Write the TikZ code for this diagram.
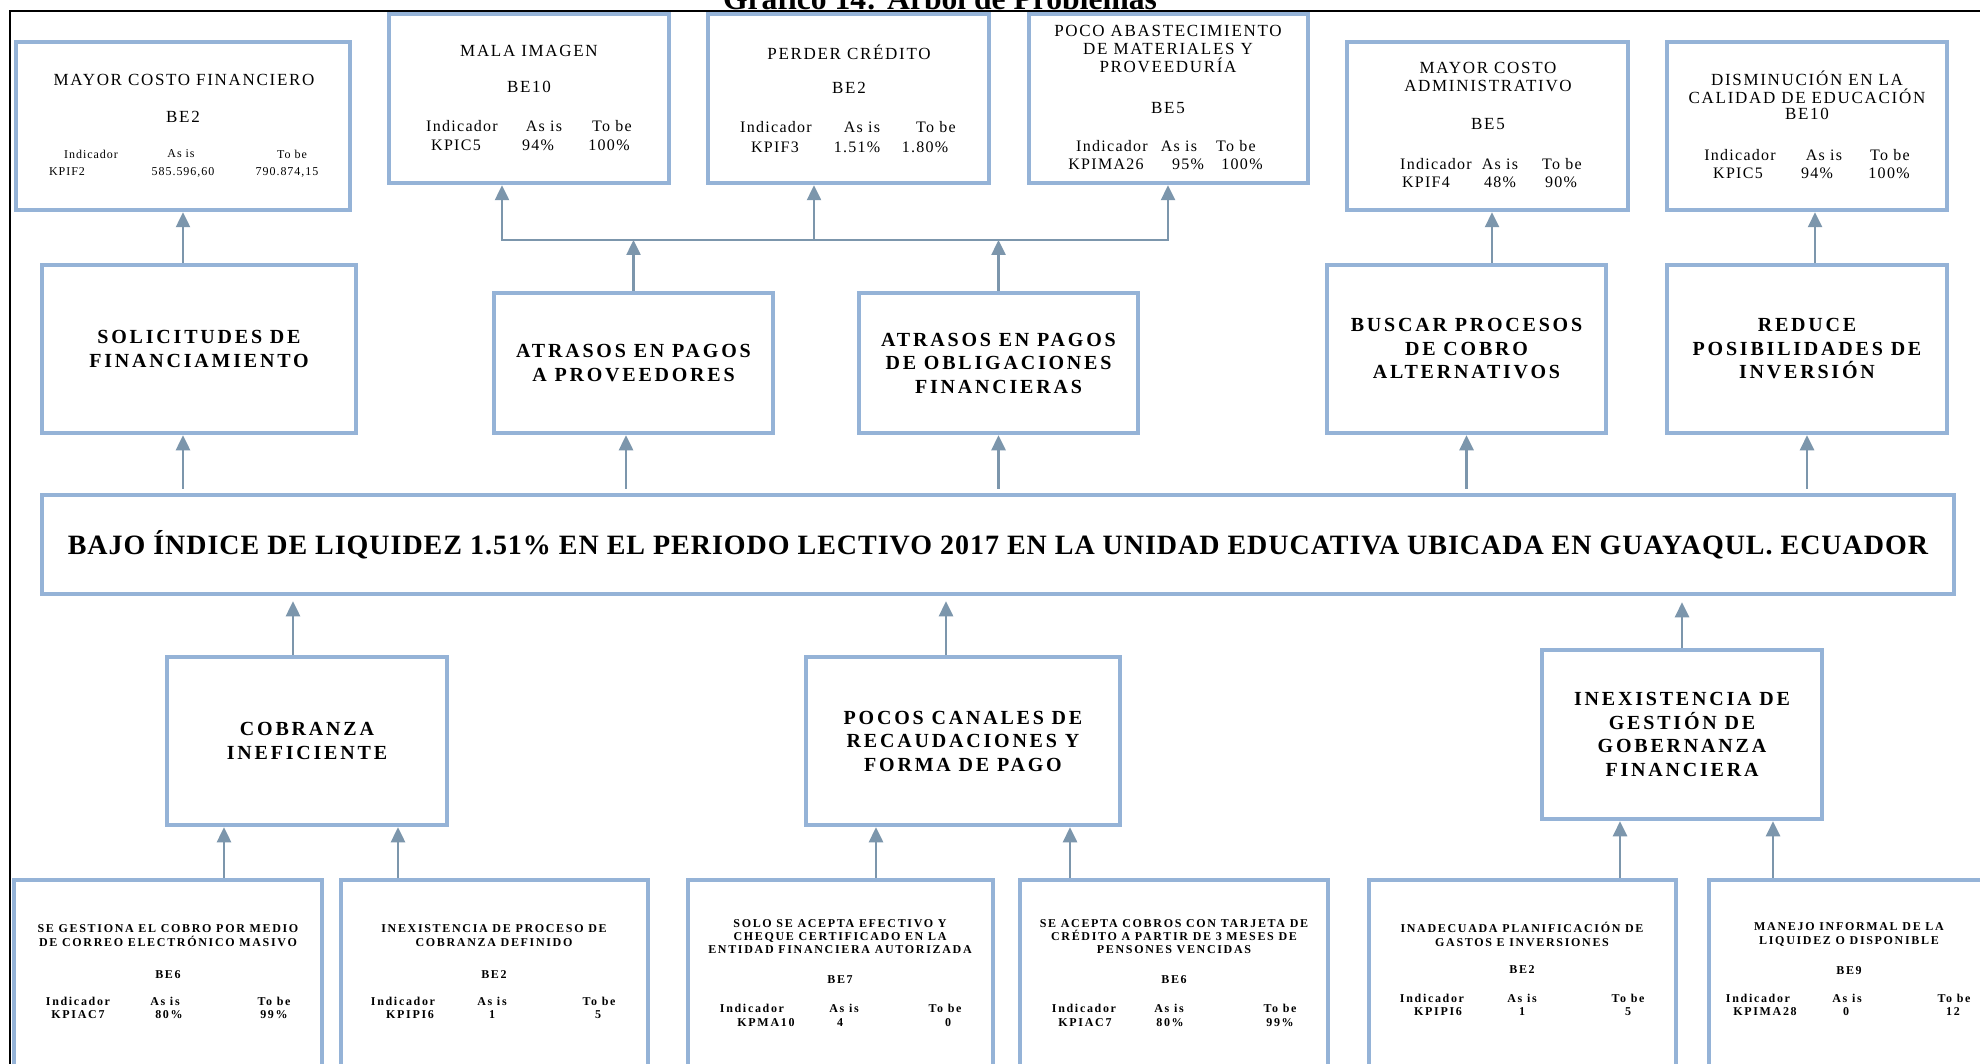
\documentclass[tikz,border=0pt]{standalone}
\usepackage{fontspec}
\setmainfont{Liberation Serif}
\newfontfamily\headfont[LetterSpace=10]{Liberation Serif}
\newfontfamily\cellfont[LetterSpace=8]{Liberation Serif}
\newfontfamily\wideboldfont[LetterSpace=14]{Liberation Serif}
\newfontfamily\mainboldfont[LetterSpace=3.5]{Liberation Serif}
\usetikzlibrary{arrows.meta}
\definecolor{boxline}{RGB}{149,179,215}
\definecolor{arrowline}{RGB}{124,150,172}

\tikzset{
  box/.style={draw=boxline, line width=4.5pt, fill=white, rectangle, inner sep=0pt, align=center},
  arr/.style={draw=arrowline, line width=2.5pt, -{Triangle[width=14pt,length=15pt]}},
  link/.style={draw=arrowline, line width=2.5pt, line cap=rect},
  causetxt/.style={font=\wideboldfont\bfseries\fontsize{20}{23.5}\selectfont},
  efftitle/.style={font=\headfont\fontsize{17}{18}\selectfont, align=center, inner sep=0pt},
  cell/.style={font=\cellfont\fontsize{16}{18}\selectfont, inner sep=0pt},
  smallcell/.style={font=\cellfont\fontsize{12}{14}\selectfont, inner sep=0pt},
  leaftxt/.style={font=\wideboldfont\bfseries\fontsize{12}{14}\selectfont, align=center, inner sep=0pt},
  leaftxtc/.style={font=\wideboldfont\bfseries\fontsize{12}{13}\selectfont, align=center, inner sep=0pt},
  leafcell/.style={font=\wideboldfont\bfseries\fontsize{12}{14}\selectfont, inner sep=0pt},
}

% indicator table: header row and value row
\newcommand\headrow[6]{%
  \node[#2] (#1h1) at (#4,#3) {Indicador};
  \node[#2] (#1h2) at (#5,#3) {As is};
  \node[#2] (#1h3) at (#6,#3) {To be};}
\newcommand\valrow[9]{%
  \node[#2] (#1v1) at (#4,#3) {#7};
  \node[#2] (#1v2) at (#5,#3) {#8};
  \node[#2] (#1v3) at (#6,#3) {#9};}

\begin{document}
\begin{tikzpicture}[x=1pt,y=-1pt]
\useasboundingbox (0,0) rectangle (1980,1064);
\clip (0,0) rectangle (1980,1064);
\fill[white] (0,0) rectangle (1980,1064);

% caption and page frame
\node[font=\bfseries\fontsize{31.6}{36}\selectfont, anchor=base, inner sep=0pt] (caption) at (940,10) {Gráfico 14: Árbol de Problemas};
\draw[line width=2pt] (1990,11) -- (9.5,11) -- (9.5,1075);

% ---------- effects ----------
\node[box, minimum width=334pt, minimum height=168pt] (b1) at (183,126) {};
\node[box, minimum width=280pt, minimum height=169pt] (b2) at (529,98.5) {};
\node[box, minimum width=281pt, minimum height=169pt] (b3) at (848.5,98.5) {};
\node[box, minimum width=279pt, minimum height=169pt] (b4) at (1168.5,98.5) {};
\node[box, minimum width=281pt, minimum height=168pt] (b5) at (1487.5,126) {};
\node[box, minimum width=280pt, minimum height=168pt] (b6) at (1807,126) {};

\node[box, causetxt, minimum width=314pt, minimum height=168pt] (b7) at (199,349) {SOLICITUDES DE\\FINANCIAMIENTO};
\node[box, causetxt, minimum width=279pt, minimum height=140pt] (b8) at (633.5,363) {ATRASOS EN PAGOS\\A PROVEEDORES};
\node[box, causetxt, minimum width=279pt, minimum height=140pt] (b9) at (998.5,363) {ATRASOS EN PAGOS\\DE OBLIGACIONES\\FINANCIERAS};
\node[box, causetxt, minimum width=279pt, minimum height=168pt] (b10) at (1466.5,349) {BUSCAR PROCESOS\\DE COBRO\\ALTERNATIVOS};
\node[box, causetxt, minimum width=280pt, minimum height=168pt] (b11) at (1807,349) {REDUCE\\POSIBILIDADES DE\\INVERSIÓN};

% ---------- central problem ----------
\node[box, font=\mainboldfont\bfseries\fontsize{28}{32}\selectfont, minimum width=1912pt, minimum height=99pt] (main) at (998,544.5)
  {BAJO ÍNDICE DE LIQUIDEZ 1.51\% EN EL PERIODO LECTIVO 2017 EN LA UNIDAD EDUCATIVA UBICADA EN GUAYAQUL. ECUADOR};

% ---------- causes ----------
\node[box, causetxt, minimum width=280pt, minimum height=168pt] (b12) at (307,741) {COBRANZA\\INEFICIENTE};
\node[box, causetxt, minimum width=314pt, minimum height=168pt] (b13) at (963,741) {POCOS CANALES DE\\RECAUDACIONES Y\\FORMA DE PAGO};
\node[box, causetxt, minimum width=280pt, minimum height=169pt] (b14) at (1682,734.5) {INEXISTENCIA DE\\GESTIÓN DE\\GOBERNANZA\\FINANCIERA};

\node[box, minimum width=308pt, minimum height=190pt] (b15) at (168,975) {};
\node[box, minimum width=307pt, minimum height=190pt] (b16) at (494.5,975) {};
\node[box, minimum width=305pt, minimum height=190pt] (b17) at (840.5,975) {};
\node[box, minimum width=308pt, minimum height=190pt] (b18) at (1174,975) {};
\node[box, minimum width=307pt, minimum height=190pt] (b19) at (1522.5,975) {};
\node[box, minimum width=286pt, minimum height=190pt] (b20) at (1852,975) {};

% ---------- effect texts ----------
\node[efftitle] (t1) at (184,80) {MAYOR COSTO FINANCIERO};
\node[efftitle] (t1be) at (183,117) {BE2};
\headrow{k1}{smallcell}{154}{91}{181}{292}
\valrow{k1}{smallcell}{172}{67}{183}{287}{KPIF2}{585.596,60}{790.874,15}

\node[efftitle] (t2) at (529,51) {MALA IMAGEN};
\node[efftitle] (t2be) at (529,87) {BE10};
\headrow{k2}{cell}{126}{462}{544}{612}
\valrow{k2}{cell}{145}{456}{538}{609}{KPIC5}{94\%}{100\%}

\node[efftitle] (t3) at (849,52) {PERDER CRÉDITO};
\node[efftitle] (t3be) at (849,88) {BE2};
\headrow{k3}{cell}{127}{776}{862}{936}
\valrow{k3}{cell}{147}{775}{857}{925}{KPIF3}{1.51\%}{1.80\%}

\node[efftitle] (t4) at (1168,49) {POCO ABASTECIMIENTO\\DE MATERIALES Y\\PROVEEDURÍA};
\node[efftitle] (t4be) at (1168,108) {BE5};
\headrow{k4}{cell}{146}{1112}{1179}{1236}
\valrow{k4}{cell}{164}{1106}{1188}{1242}{KPIMA26}{95\%}{100\%}

\node[efftitle] (t5) at (1488,77) {MAYOR COSTO\\ADMINISTRATIVO};
\node[efftitle] (t5be) at (1488,124) {BE5};
\headrow{k5}{cell}{164}{1436}{1500}{1562}
\valrow{k5}{cell}{182}{1426}{1500}{1561}{KPIF4}{48\%}{90\%}

\node[efftitle] (t6) at (1807,87) {DISMINUCIÓN EN LA\\CALIDAD DE EDUCACIÓN};
\node[efftitle] (t6be) at (1807,114) {BE10};
\headrow{k6}{cell}{155}{1740}{1824}{1890}
\valrow{k6}{cell}{173}{1738}{1817}{1889}{KPIC5}{94\%}{100\%}

% ---------- root cause texts ----------
\node[leaftxt] (t15) at (168,936) {SE GESTIONA EL COBRO POR MEDIO\\DE CORREO ELECTRÓNICO MASIVO};
\node[leaftxt] (t15be) at (168,975) {BE6};
\headrow{k15}{leafcell}{1001}{78}{165}{274}
\valrow{k15}{leafcell}{1015}{78}{169}{274}{KPIAC7}{80\%}{99\%}

\node[leaftxt] (t16) at (494,936) {INEXISTENCIA DE PROCESO DE\\COBRANZA DEFINIDO};
\node[leaftxt] (t16be) at (494,975) {BE2};
\headrow{k16}{leafcell}{1001}{403}{492}{599}
\valrow{k16}{leafcell}{1015}{410}{492}{598}{KPIPI6}{1}{5}

\node[leaftxtc] (t17) at (840,937) {SOLO SE ACEPTA EFECTIVO Y\\CHEQUE CERTIFICADO EN LA\\ENTIDAD FINANCIERA AUTORIZADA};
\node[leaftxt] (t17be) at (840,980) {BE7};
\headrow{k17}{leafcell}{1008}{752}{844}{945}
\valrow{k17}{leafcell}{1023}{766}{840}{948}{KPMA10}{4}{0}

\node[leaftxtc] (t18) at (1174,937) {SE ACEPTA COBROS CON TARJETA DE\\CRÉDITO A PARTIR DE 3 MESES DE\\PENSONES VENCIDAS};
\node[leaftxt] (t18be) at (1174,980) {BE6};
\headrow{k18}{leafcell}{1008}{1084}{1169}{1280}
\valrow{k18}{leafcell}{1023}{1085}{1170}{1280}{KPIAC7}{80\%}{99\%}

\node[leaftxt] (t19) at (1522,934) {INADECUADA PLANIFICACIÓN DE\\GASTOS E INVERSIONES};
\node[leaftxt] (t19be) at (1522,970) {BE2};
\headrow{k19}{leafcell}{998}{1432}{1522}{1628}
\valrow{k19}{leafcell}{1012}{1438}{1522}{1628}{KPIPI6}{1}{5}

\node[leaftxt] (t20) at (1849,934) {MANEJO INFORMAL DE LA\\LIQUIDEZ O DISPONIBLE};
\node[leaftxt] (t20be) at (1849,971) {BE9};
\headrow{k20}{leafcell}{998}{1758}{1847}{1954}
\valrow{k20}{leafcell}{1012}{1765}{1846}{1953}{KPIMA28}{0}{12}

% ---------- connector columns ----------
\coordinate (xA) at (183,0);
\coordinate (xB) at (626,0);
\coordinate (jl) at (502,240);
\coordinate (jm) at (814,240);
\coordinate (jr) at (1168,240);
\coordinate (xE) at (1492,0);
\coordinate (xF) at (1815,0);
\coordinate (xG) at (293,0);
\coordinate (xH) at (946,0);
\coordinate (xI) at (224,0);
\coordinate (xJ) at (398,0);
\coordinate (xK) at (876,0);
\coordinate (xL) at (1070,0);
\coordinate (xM) at (1620,0);
\coordinate (xN) at (1773,0);

% effects chain
\draw[arr] (b7.north -| xA) -- (b1.south -| xA);
\draw[link] (jl) -- (jr);
\draw[arr] (b8.north) -- (b8.north |- jl);
\draw[arr] (b9.north) -- (b9.north |- jl);
\draw[arr] (jl) -- (b2.south -| jl);
\draw[arr] (jm) -- (b3.south -| jm);
\draw[arr] (jr) -- (b4.south -| jr);
\draw[arr] (b10.north -| xE) -- (b5.south -| xE);
\draw[arr] (b11.north -| xF) -- (b6.south -| xF);

% central problem to direct effects
\draw[arr, shorten <=4pt] (main.north -| xA) -- (b7.south -| xA);
\draw[arr, shorten <=4pt] (main.north -| xB) -- (b8.south -| xB);
\draw[arr, shorten <=4pt] (main.north -| b9.south) -- (b9.south);
\draw[arr, shorten <=4pt] (main.north -| b10.south) -- (b10.south);
\draw[arr, shorten <=4pt] (main.north -| b11.south) -- (b11.south);

% causes to central problem
\draw[arr, shorten >=5pt] (b12.north -| xG) -- (main.south -| xG);
\draw[arr, shorten >=5pt] (b13.north -| xH) -- (main.south -| xH);
\draw[arr, shorten >=6pt] (b14.north) -- (main.south -| b14.north);

% root causes to causes
\draw[arr] (b15.north -| xI) -- (b12.south -| xI);
\draw[arr] (b16.north -| xJ) -- (b12.south -| xJ);
\draw[arr] (b17.north -| xK) -- (b13.south -| xK);
\draw[arr] (b18.north -| xL) -- (b13.south -| xL);
\draw[arr] (b19.north -| xM) -- (b14.south -| xM);
\draw[arr] (b20.north -| xN) -- (b14.south -| xN);
\end{tikzpicture}
\end{document}
